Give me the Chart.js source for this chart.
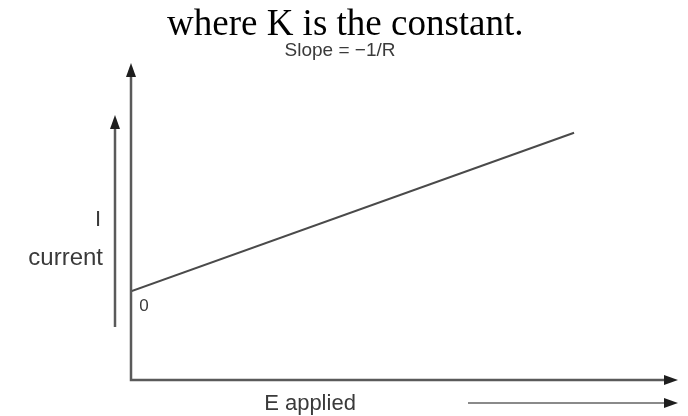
<!DOCTYPE html>
<html>
<head>
<meta charset="utf-8">
<script src="https://cdn.jsdelivr.net/npm/chart.js@4"></script>
<style>
  html, body { margin: 0; padding: 0; background: #fff; }
  #wrap { position: relative; width: 688px; height: 416px; }
  #title {
    position: absolute; left: 167px; top: 4px;
    font-family: 'Liberation Serif', 'Times New Roman', serif;
    font-size: 37px; line-height: 37px; color: #000; white-space: nowrap;
  }
  canvas { position: absolute; left: 0; top: 0; }
</style>
</head>
<body>
<div id="wrap">
  <canvas id="chart" width="688" height="416"></canvas>
  <div id="title"></div>
</div>
<script>
// values (axis units are arbitrary, 0..100)
const eApplied = [0, 81];
const current = [28, 78];
const titleText = 'where K is the constant.';
const slopeLabel = 'Slope = \u22121/R';
const yLabels = ['I', 'current'];
const xLabel = 'E applied';
const originLabel = '0';

const sans = "'Liberation Sans', Arial, sans-serif";

document.getElementById('title').textContent = titleText;

function arrowHead(ctx, x, y, dir) {
    // dir: 'up' or 'right'
    ctx.beginPath();
    if (dir === 'up') {
        ctx.moveTo(x, y);
        ctx.lineTo(x - 5, y + 14);
        ctx.lineTo(x + 5, y + 14);
    } else {
        ctx.moveTo(x, y);
        ctx.lineTo(x - 14, y - 5);
        ctx.lineTo(x - 14, y + 5);
    }
    ctx.closePath();
    ctx.fill();
}

const axesPlugin = {
    id: 'axesPlugin',
    afterDraw(chart) {
        const ctx = chart.ctx;
        const xs = chart.scales.x;
        const ys = chart.scales.y;
        const left = xs.getPixelForValue(0);
        const right = xs.getPixelForValue(100);
        const bottom = ys.getPixelForValue(0);
        const top = ys.getPixelForValue(100);

        ctx.save();
        ctx.strokeStyle = '#5a5a5a';
        ctx.fillStyle = '#1e1e1e';
        ctx.lineWidth = 2.5;

        // main axes
        ctx.beginPath();
        ctx.moveTo(left, top + 8);
        ctx.lineTo(left, bottom);
        ctx.lineTo(right - 8, bottom);
        ctx.stroke();
        arrowHead(ctx, left, top, 'up');
        arrowHead(ctx, right, bottom, 'right');

        // small arrow beside the y label
        ctx.beginPath();
        ctx.moveTo(left - 16, bottom - 53);
        ctx.lineTo(left - 16, top + 60);
        ctx.stroke();
        arrowHead(ctx, left - 16, top + 52, 'up');

        // small arrow beside the x label
        ctx.strokeStyle = '#8a8a8a';
        ctx.lineWidth = 2;
        ctx.beginPath();
        ctx.moveTo(468, bottom + 23);
        ctx.lineTo(right - 8, bottom + 23);
        ctx.stroke();
        arrowHead(ctx, right, bottom + 23, 'right');

        // labels
        ctx.fillStyle = '#3a3a3a';
        ctx.textBaseline = 'middle';
        ctx.textAlign = 'center';
        ctx.font = '19px ' + sans;
        ctx.fillText(slopeLabel, 340, 51);
        ctx.font = '22px ' + sans;
        ctx.fillText(xLabel, 310, bottom + 24);
        ctx.textAlign = 'right';
        ctx.fillText(yLabels[0], 101, 220);
        ctx.font = '24px ' + sans;
        ctx.fillText(yLabels[1], 103, 258);
        ctx.textAlign = 'center';
        ctx.font = '17px ' + sans;
        ctx.fillText(originLabel, 144, 306);
        ctx.restore();
    }
};

new Chart(document.getElementById('chart'), {
    type: 'scatter',
    data: {
        datasets: [{
            data: eApplied.map((e, i) => ({ x: e, y: current[i] })),
            showLine: true,
            borderColor: '#4a4a4a',
            borderWidth: 2,
            pointRadius: 0,
            fill: false
        }]
    },
    options: {
        responsive: false,
        animation: false,
        layout: { padding: { left: 131, right: 10, top: 63, bottom: 36 } },
        plugins: {
            legend: { display: false },
            tooltip: { enabled: false }
        },
        scales: {
            x: { type: 'linear', min: 0, max: 100, display: false },
            y: { type: 'linear', min: 0, max: 100, display: false }
        }
    },
    plugins: [axesPlugin]
});
</script>
</body>
</html>
